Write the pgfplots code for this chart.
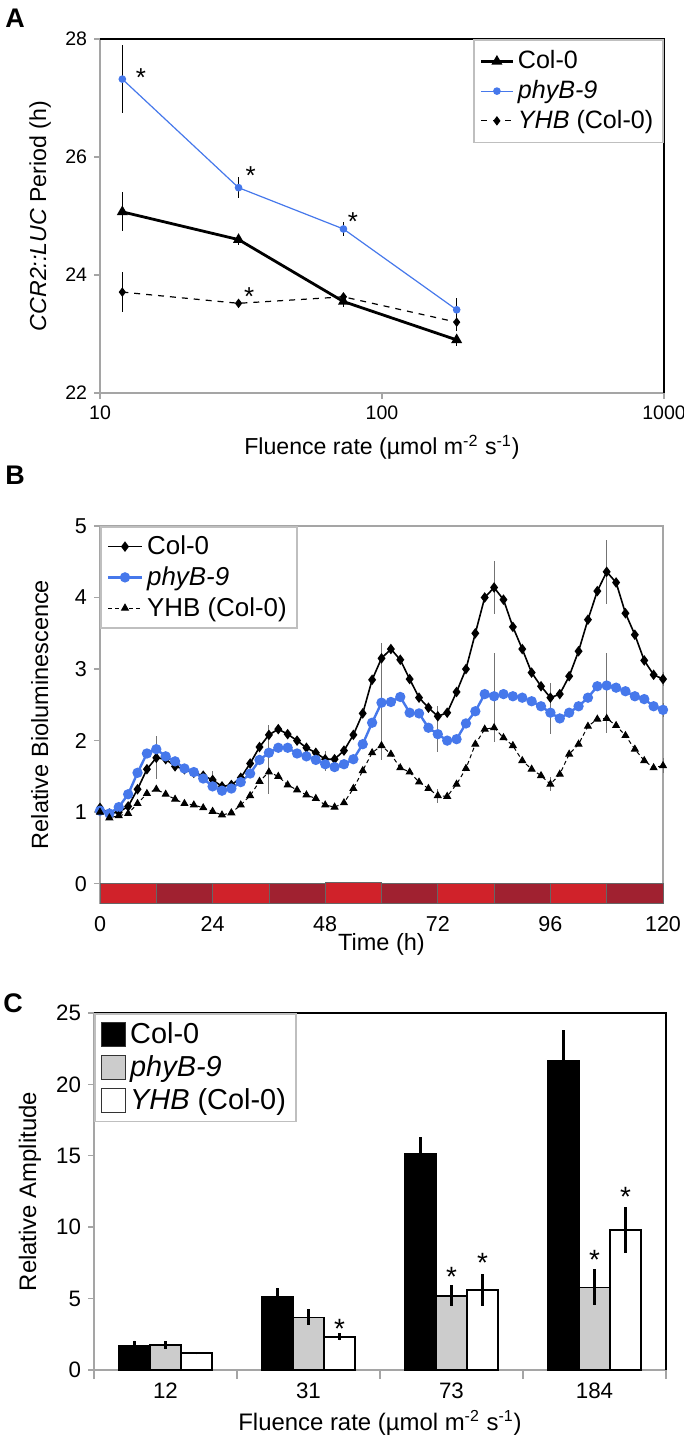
\documentclass[border=0pt]{standalone}
\usepackage{fontspec}
\setmainfont{Liberation Sans}
\usepackage{pgfplots}
\pgfplotsset{compat=1.18}
\definecolor{pblue}{RGB}{70,120,235}
\definecolor{lred}{RGB}{208,34,42}
\definecolor{dred}{RGB}{160,33,48}
\definecolor{agray}{RGB}{165,165,165}
\pgfplotsset{
  base/.style={scale only axis, anchor=south west, clip=false,
    axis line style={agray, line width=0.7bp},
    tick style={agray, line width=0.7bp}, tick align=outside,
    major tick length=3bp, xtick pos=bottom, ytick pos=left,
    legend cell align=left,
    /pgf/number format/assume math mode=true},
  linelegend/.style={legend image code/.code={\draw[mark repeat=2,mark phase=2,##1] plot coordinates {(0bp,0bp) (#1,0bp) (2*#1,0bp)};}},
}
\begin{document}
\begin{tikzpicture}
\useasboundingbox (0,0) rectangle (342bp,719bp);
% ---------------- Panel A ----------------
\begin{axis}[base, at={(50bp,522.5bp)}, width=282bp, height=177bp,
  xmode=log, xmin=10, xmax=1000, ymin=22, ymax=28,
  xtick={10,100,1000}, xticklabels={10,100,1000}, minor x tick style={draw=none},
  ytick={22,24,26,28},
  ticklabel style={font=\fontsize{9.8}{11}\selectfont},
  xlabel={Fluence rate (µmol m\textsuperscript{-2} s\textsuperscript{-1})},
  ylabel={\textit{CCR2::LUC} Period (h)},
  label style={font=\fontsize{11.6}{12}\selectfont},
  xlabel style={at={(axis description cs:0.5,-0.153)}, anchor=center},
  ylabel style={at={(axis description cs:-0.106,0.5)}, anchor=center},
  linelegend=7.8bp,
  legend style={at={(1,1)}, anchor=north east, draw=black!25, line width=0.8bp,
    font=\fontsize{12.6}{13}\selectfont, inner xsep=3bp, inner ysep=3.5bp, row sep=0.3bp},
  error bars/y dir=both, error bars/y explicit,
  error bars/error bar style={black, line width=0.6bp, solid}, error bars/error mark=none]
\addplot[black, line width=1.4bp, mark=triangle*, mark size=1.8bp, mark options={solid}]
  coordinates {(12,25.07) +- (0,0.33) (31,24.6) +- (0,0.1) (73,23.55) +- (0,0.1) (184,22.9) +- (0,0.1)};
\addlegendentry{Col-0}
\addplot[pblue, line width=0.6bp, mark=*, mark size=1.6bp, mark options={solid}]
  coordinates {(12,27.32) +- (0,0.57) (31,25.48) +- (0,0.18) (73,24.78) +- (0,0.12) (184,23.41) +- (0,0.2)};
\addlegendentry{\textit{phyB-9}}
\addplot[black, line width=0.6bp, dashed, mark=diamond*, mark size=1.9bp, mark options={solid}]
  coordinates {(12,23.71) +- (0,0.34) (31,23.52) +- (0,0.08) (73,23.63) +- (0,0.06) (184,23.2) +- (0,0.15)};
\addlegendentry{\textit{YHB} (Col-0)}
\draw[black, line width=0.6bp] (rel axis cs:0,1) -- (rel axis cs:1,1) -- (rel axis cs:1,0);
\begin{scope}[every node/.style={font=\fontsize{13}{13}\selectfont, yshift=-2.6bp}]
\node at (axis cs:13.98,27.43) {*};
\node at (axis cs:34.2,25.78) {*};
\node at (axis cs:78.9,24.99) {*};
\node at (axis cs:33.8,23.72) {*};
\end{scope}
\end{axis}
% ---------------- Panel B ----------------
\begin{axis}[base, at={(50bp,267.5bp)}, width=281.5bp, height=188.5bp,
  xmin=0, xmax=120, ymin=-0.27, ymax=5,
  xtick={0,24,48,72,96,120}, ytick={0,1,2,3,4,5},
  x tick style={draw=none},
  ticklabel style={font=\fontsize{10.8}{12}\selectfont},
  xlabel={Time (h)}, ylabel={Relative Bioluminescence},
  label style={font=\fontsize{11.8}{12}\selectfont},
  xlabel style={at={(axis description cs:0.5,-0.111)}, anchor=center},
  ylabel style={at={(axis description cs:-0.107,0.5)}, anchor=center},
  linelegend=8.5bp,
  legend style={at={(0,1)}, anchor=north west, draw=black!25, line width=0.8bp,
    font=\fontsize{13}{14}\selectfont, inner xsep=3bp, inner ysep=2.5bp, row sep=0.5bp}]
\addplot[black, line width=0.8bp, mark=diamond*, mark size=2bp] coordinates {
(0,1.06) (2,0.98) (4,1.00) (6,1.08) (8,1.32) (10,1.60) (12,1.76) (14,1.74) (16,1.64) (18,1.60)
(20,1.55) (22,1.51) (24,1.45) (26,1.36) (28,1.38) (30,1.48) (32,1.68) (34,1.91) (36,2.08) (38,2.16)
(40,2.09) (42,2.00) (44,1.90) (46,1.83) (48,1.74) (50,1.74) (52,1.86) (54,2.08) (56,2.38) (58,2.85)
(60,3.15) (62,3.28) (64,3.13) (66,2.86) (68,2.60) (70,2.46) (72,2.34) (74,2.39) (76,2.68) (78,3.00)
(80,3.50) (82,4.00) (84,4.14) (86,3.97) (88,3.59) (90,3.28) (92,2.95) (94,2.76) (96,2.60) (98,2.65)
(100,2.90) (102,3.25) (104,3.69) (106,4.09) (108,4.36) (110,4.21) (112,3.78) (114,3.48) (116,3.12) (118,2.92)
(120,2.86)};
\addlegendentry{Col-0}
\addplot[pblue, line width=1.2bp, mark=*, mark size=1.95bp] coordinates {
(0,1.02) (2,0.98) (4,1.07) (6,1.25) (8,1.55) (10,1.82) (12,1.88) (14,1.78) (16,1.71) (18,1.61)
(20,1.56) (22,1.47) (24,1.36) (26,1.30) (28,1.33) (30,1.42) (32,1.54) (34,1.73) (36,1.83) (38,1.90)
(40,1.90) (42,1.82) (44,1.78) (46,1.73) (48,1.67) (50,1.63) (52,1.67) (54,1.74) (56,1.95) (58,2.25)
(60,2.53) (62,2.54) (64,2.61) (66,2.39) (68,2.38) (70,2.18) (72,2.09) (74,2.00) (76,2.02) (78,2.24)
(80,2.41) (82,2.65) (84,2.62) (86,2.65) (88,2.62) (90,2.60) (92,2.55) (94,2.48) (96,2.39) (98,2.31)
(100,2.39) (102,2.48) (104,2.60) (106,2.76) (108,2.77) (110,2.74) (112,2.69) (114,2.62) (116,2.58) (118,2.48)
(120,2.43)};
\addlegendentry{\textit{phyB-9}}
\addplot[black, line width=0.5bp, dash pattern=on 2bp off 1.5bp, mark=triangle*, mark size=1.9bp, mark options={solid}] coordinates {
(0,1.00) (2,0.92) (4,0.95) (6,0.98) (8,1.12) (10,1.26) (12,1.32) (14,1.25) (16,1.18) (18,1.12)
(20,1.10) (22,1.06) (24,1.01) (26,0.96) (28,0.99) (30,1.10) (32,1.23) (34,1.43) (36,1.56) (38,1.50)
(40,1.38) (42,1.31) (44,1.24) (46,1.19) (48,1.10) (50,1.07) (52,1.13) (54,1.33) (56,1.58) (58,1.83)
(60,1.93) (62,1.81) (64,1.62) (66,1.56) (68,1.42) (70,1.33) (72,1.23) (74,1.22) (76,1.39) (78,1.61)
(80,1.95) (82,2.16) (84,2.18) (86,2.04) (88,1.93) (90,1.72) (92,1.60) (94,1.51) (96,1.39) (98,1.53)
(100,1.81) (102,1.95) (104,2.20) (106,2.30) (108,2.31) (110,2.21) (112,2.07) (114,1.88) (116,1.72) (118,1.62)
(120,1.65)};
\addlegendentry{YHB (Col-0)}
% error bars
\addplot[draw=none, forget plot, error bars/.cd, y dir=both, y explicit,
  error bar style={black!55, line width=0.5bp}, error mark=none] coordinates {
(12,1.76) +- (0,0.30) (24,1.45) +- (0,0.12) (36,2.08) +- (0,0.14) (48,1.74) +- (0,0.12) (60,3.15) +- (0,0.22)
(72,2.34) +- (0,0.14) (84,4.14) +- (0,0.37) (96,2.60) +- (0,0.20) (108,4.36) +- (0,0.45) (120,2.86) +- (0,0.10)};
\addplot[draw=none, forget plot, error bars/.cd, y dir=both, y explicit,
  error bar style={black!55, line width=0.5bp}, error mark=none] coordinates {
(12,1.88) +- (0,0.15) (36,1.83) +- (0,0.30) (48,1.67) +- (0,0.10) (60,2.53) +- (0,0.50)
(72,2.09) +- (0,0.25) (84,2.62) +- (0,0.60) (96,2.39) +- (0,0.30) (108,2.77) +- (0,0.45) (120,2.43) +- (0,0.10)};
\addplot[draw=none, forget plot, error bars/.cd, y dir=both, y explicit,
  error bar style={black!55, line width=0.5bp}, error mark=none] coordinates {
(36,1.56) +- (0,0.30) (60,1.93) +- (0,0.20) (72,1.23) +- (0,0.10) (84,2.18) +- (0,0.20)
(96,1.39) +- (0,0.10) (108,2.31) +- (0,0.20) (120,1.65) +- (0,0.10)};
% light / dark bar
\addplot[forget plot, fill=lred, draw=black!60, line width=0.4bp] coordinates {(0,-0.27) (12,-0.27) (12,0) (0,0)} -- cycle;
\addplot[forget plot, fill=dred, draw=black!60, line width=0.4bp] coordinates {(12,-0.27) (24,-0.27) (24,0) (12,0)} -- cycle;
\addplot[forget plot, fill=lred, draw=black!60, line width=0.4bp] coordinates {(24,-0.27) (36,-0.27) (36,0) (24,0)} -- cycle;
\addplot[forget plot, fill=dred, draw=black!60, line width=0.4bp] coordinates {(36,-0.27) (48,-0.27) (48,0) (36,0)} -- cycle;
\addplot[forget plot, fill=lred, draw=black!60, line width=0.4bp] coordinates {(48,-0.27) (60,-0.27) (60,0.02) (48,0.02)} -- cycle;
\addplot[forget plot, fill=dred, draw=black!60, line width=0.4bp] coordinates {(60,-0.27) (72,-0.27) (72,0) (60,0)} -- cycle;
\addplot[forget plot, fill=lred, draw=black!60, line width=0.4bp] coordinates {(72,-0.27) (84,-0.27) (84,0) (72,0)} -- cycle;
\addplot[forget plot, fill=dred, draw=black!60, line width=0.4bp] coordinates {(84,-0.27) (96,-0.27) (96,0) (84,0)} -- cycle;
\addplot[forget plot, fill=lred, draw=black!60, line width=0.4bp] coordinates {(96,-0.27) (108,-0.27) (108,0) (96,0)} -- cycle;
\addplot[forget plot, fill=dred, draw=black!60, line width=0.4bp] coordinates {(108,-0.27) (120,-0.27) (120,0) (108,0)} -- cycle;
\end{axis}
% ---------------- Panel C ----------------
\begin{axis}[base, at={(47bp,34bp)}, width=286bp, height=178.5bp,
  ybar=0pt, bar width=15.5bp,
  xmin=-0.5, xmax=3.5, ymin=0, ymax=25,
  xtick={0,1,2,3}, xticklabels={12,31,73,184},
  minor xtick={-0.5,0.5,1.5,2.5,3.5}, major x tick style={draw=none}, minor tick length=4.5bp,
  ytick={0,5,10,15,20,25},
  ticklabel style={font=\fontsize{11.2}{12}\selectfont},
  xlabel={Fluence rate (µmol m\textsuperscript{-2} s\textsuperscript{-1})},
  ylabel={Relative Amplitude},
  label style={font=\fontsize{12}{12}\selectfont},
  xlabel style={at={(axis description cs:0.5,-0.148)}, anchor=center},
  ylabel style={at={(axis description cs:-0.112,0.5)}, anchor=center},
  legend image code/.code={\draw[#1, draw=black!80, line width=0.7bp] (0bp,-6bp) rectangle (12bp,6bp);},
  legend style={at={(0,1)}, anchor=north west, draw=black!25, line width=0.8bp,
    font=\fontsize{14.5}{15}\selectfont, inner xsep=3bp, inner ysep=2.5bp, row sep=0.5bp},
  error bars/y dir=both, error bars/y explicit,
  error bars/error bar style={black, line width=1.1bp}, error bars/error mark=none]
\addplot[fill=black, draw=black, line width=0.8bp]
  coordinates {(0,1.68) +- (0,0.37) (1,5.13) +- (0,0.62) (2,15.13) +- (0,1.17) (3,21.66) +- (0,2.14)};
\addlegendentry{Col-0}
\addplot[fill=black!20, draw=black, line width=0.8bp]
  coordinates {(0,1.75) +- (0,0.25) (1,3.69) +- (0,0.55) (2,5.2) +- (0,0.73) (3,5.79) +- (0,1.25)};
\addlegendentry{\textit{phyB-9}}
\addplot[fill=white, draw=black, line width=0.8bp]
  coordinates {(0,1.17) +- (0,0.08) (1,2.33) +- (0,0.25) (2,5.6) +- (0,1.1) (3,9.8) +- (0,1.6)};
\addlegendentry{\textit{YHB} (Col-0)}
\draw[black, line width=0.6bp] (rel axis cs:0,1) -- (rel axis cs:1,1) -- (rel axis cs:1,0);
\begin{scope}[every node/.style={font=\fontsize{14}{14}\selectfont, yshift=-2.8bp}]
\node at (axis cs:1.217,3.3) {*};
\node at (axis cs:2,6.9) {*};
\node at (axis cs:2.217,7.9) {*};
\node at (axis cs:3,8.1) {*};
\node at (axis cs:3.217,12.5) {*};
\end{scope}
\end{axis}
% panel letters
\node[font=\bfseries\fontsize{13.5}{13}\selectfont] at (7.5bp,710bp) {A};
\node[font=\bfseries\fontsize{13.5}{13}\selectfont] at (7.5bp,481.5bp) {B};
\node[font=\bfseries\fontsize{13.5}{13}\selectfont] at (6.5bp,217.5bp) {C};
\end{tikzpicture}
\end{document}
